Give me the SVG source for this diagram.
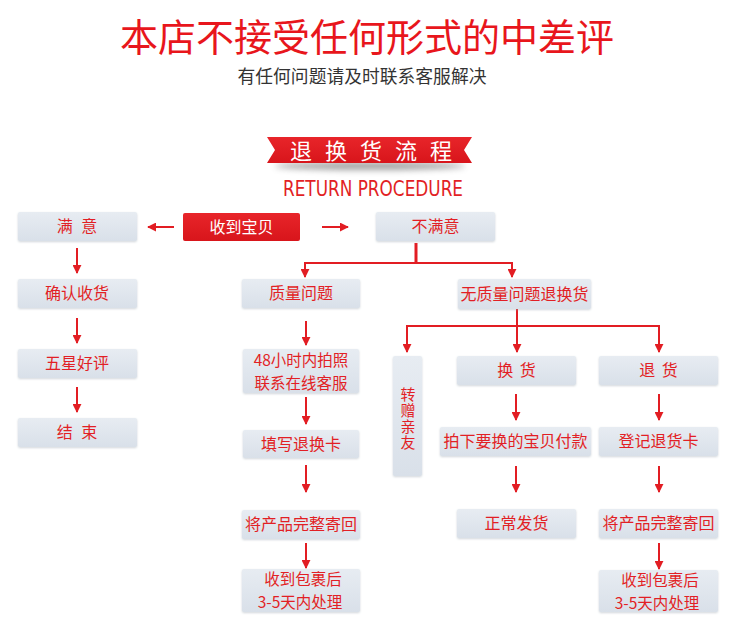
<svg xmlns="http://www.w3.org/2000/svg" width="750" height="629" viewBox="0 0 750 629">
<defs>
<linearGradient id="boxg" x1="0" y1="0" x2="0" y2="1">
<stop offset="0" stop-color="#e7ecf2"/>
<stop offset="1" stop-color="#d9e0e9"/>
</linearGradient>
<linearGradient id="redg" x1="0" y1="0" x2="0" y2="1">
<stop offset="0" stop-color="#e8252a"/>
<stop offset="1" stop-color="#d8151b"/>
</linearGradient>
<filter id="blur" x="-20%" y="-100%" width="140%" height="300%">
<feGaussianBlur stdDeviation="3"/>
</filter>
<filter id="sh" x="-5%" y="-10%" width="110%" height="130%">
<feDropShadow dx="0" dy="1" stdDeviation="0.8" flood-color="#9aa4b0" flood-opacity="0.45"/>
</filter>
<marker id="ah" viewBox="0 0 10 10" refX="9" refY="5" markerWidth="4.5" markerHeight="4.5" orient="auto" markerUnits="strokeWidth">
<path d="M0,0 L10,5 L0,10 z" fill="#e21d23"/>
</marker>
</defs>
<style>
.box{fill:url(#boxg);filter:url(#sh)}
.t{font-family:"Noto Sans CJK SC","Noto Sans",sans-serif;font-size:16px;fill:#e21f25;text-anchor:middle}
.two{font-size:15.5px}
.v{font-size:15px;writing-mode:vertical-rl;letter-spacing:1px}
.c{fill:none;stroke:#e21d23;stroke-width:2}
.ca{fill:none;stroke:#e21d23;stroke-width:2;marker-end:url(#ah)}
</style>
<rect width="750" height="629" fill="#ffffff"/>

<g id="title">
<text x="367" y="51" font-family="Noto Sans CJK SC,sans-serif" font-size="38" fill="#e8161c" text-anchor="middle">本店不接受任何形式的中差评</text>
<text x="362" y="83" font-family="Noto Sans CJK SC,sans-serif" font-size="17.8" fill="#333333" text-anchor="middle">有任何问题请及时联系客服解决</text>
</g>

<g id="ribbon">
<ellipse cx="370" cy="166" rx="95" ry="4" fill="#555" opacity="0.55" filter="url(#blur)"/>
<polygon points="267,137 472,137 464,150 472,163 267,163 275,150" fill="url(#redg)"/>
<text font-family="Noto Sans CJK SC,sans-serif" font-size="22" fill="#ffffff" text-anchor="middle" y="159"><tspan x="301">退</tspan><tspan x="336">换</tspan><tspan x="371">货</tspan><tspan x="406">流</tspan><tspan x="441">程</tspan></text>
<text x="283" y="196" font-family="DejaVu Sans Condensed,DejaVu Sans,sans-serif" font-size="22" fill="#e21f25" textLength="180" lengthAdjust="spacingAndGlyphs">RETURN PROCEDURE</text>
</g>

<g id="connectors">
<line class="ca" x1="174" y1="227" x2="148" y2="227"/>
<line class="ca" x1="322" y1="227" x2="348" y2="227"/>
<line class="ca" x1="77" y1="248" x2="77" y2="273"/>
<line class="ca" x1="77" y1="318" x2="77" y2="343"/>
<line class="ca" x1="77" y1="387" x2="77" y2="412"/>
<line x1="416" y1="243" x2="416" y2="263" stroke="#e21d23" stroke-width="3"/>
<polyline class="c" points="305,276 305,263 512,263 512,276"/>
<line class="ca" x1="305" y1="266" x2="305" y2="277"/>
<line class="ca" x1="512" y1="266" x2="512" y2="277"/>
<line class="ca" x1="306" y1="321" x2="306" y2="345"/>
<line class="ca" x1="306" y1="397" x2="306" y2="424"/>
<line class="ca" x1="306" y1="465" x2="306" y2="492"/>
<line class="ca" x1="306" y1="543" x2="306" y2="568"/>
<line x1="517" y1="309" x2="517" y2="326" stroke="#e21d23" stroke-width="2"/>
<polyline class="c" points="407,340 407,326 659,326 659,340"/>
<line class="ca" x1="407" y1="330" x2="407" y2="352"/>
<line class="ca" x1="517" y1="326" x2="517" y2="352"/>
<line class="ca" x1="659" y1="330" x2="659" y2="352"/>
<line class="ca" x1="516" y1="394" x2="516" y2="420"/>
<line class="ca" x1="659" y1="394" x2="659" y2="420"/>
<line class="ca" x1="516" y1="466" x2="516" y2="492"/>
<line class="ca" x1="659" y1="466" x2="659" y2="492"/>
<line class="ca" x1="659" y1="543" x2="659" y2="569"/>
</g>

<g id="n-shoudao"><rect x="183" y="213" width="117" height="28" rx="2" fill="url(#redg)"/><text class="t" x="241.5" y="233" style="fill:#ffffff">收到宝贝</text></g>
<g id="n-manyi"><rect class="box" x="18" y="212" width="119" height="29" rx="2"/><text class="t" x="77" y="232" style="word-spacing:5px">满 意</text></g>
<g id="n-bumanyi"><rect class="box" x="376" y="212" width="119" height="29" rx="2"/><text class="t" x="435.5" y="232">不满意</text></g>
<g id="n-queren"><rect class="box" x="18" y="279" width="119" height="29" rx="2"/><text class="t" x="77" y="299">确认收货</text></g>
<g id="n-wuxing"><rect class="box" x="18" y="349" width="119" height="29" rx="2"/><text class="t" x="77" y="369">五星好评</text></g>
<g id="n-jieshu"><rect class="box" x="18" y="418" width="119" height="29" rx="2"/><text class="t" x="77" y="438" style="word-spacing:5px">结 束</text></g>
<g id="n-zhiliang"><rect class="box" x="242" y="279" width="118" height="29" rx="2"/><text class="t" x="301" y="299">质量问题</text></g>
<g id="n-wuzhiliang"><rect class="box" x="458" y="279" width="133" height="30" rx="2"/><text class="t" x="524.5" y="300">无质量问题退换货</text></g>
<g id="n-48"><rect class="box" x="243" y="349" width="116" height="44" rx="2"/><text class="t two"><tspan x="301" y="366">48小时内拍照</tspan><tspan x="301" y="389">联系在线客服</tspan></text></g>
<g id="n-tianxie"><rect class="box" x="243" y="430" width="116" height="28" rx="2"/><text class="t" x="301" y="450">填写退换卡</text></g>
<g id="n-jiang1"><rect class="box" x="242" y="510" width="118" height="29" rx="2"/><text class="t" x="301" y="530">将产品完整寄回</text></g>
<g id="n-shou1"><rect class="box" x="242" y="569" width="118" height="43" rx="2"/><text class="t two"><tspan x="303" y="585">收到包裹后</tspan><tspan x="300" y="608">3-5天内处理</tspan></text></g>
<g id="n-zhuanzeng"><rect class="box" x="393" y="356" width="29" height="120" rx="2"/><text class="t v" x="408" y="419">转赠亲友</text></g>
<g id="n-huanhuo"><rect class="box" x="457" y="356" width="119" height="29" rx="2"/><text class="t" x="516.5" y="376" style="word-spacing:3px">换 货</text></g>
<g id="n-tuihuo"><rect class="box" x="599" y="356" width="119" height="29" rx="2"/><text class="t" x="658.5" y="376" style="word-spacing:3px">退 货</text></g>
<g id="n-paixia"><rect class="box" x="440" y="427" width="151" height="29" rx="2"/><text class="t" x="515.5" y="447">拍下要换的宝贝付款</text></g>
<g id="n-dengji"><rect class="box" x="599" y="427" width="119" height="29" rx="2"/><text class="t" x="658.5" y="447">登记退货卡</text></g>
<g id="n-zhengchang"><rect class="box" x="457" y="509" width="119" height="29" rx="2"/><text class="t" x="516.5" y="529">正常发货</text></g>
<g id="n-jiang2"><rect class="box" x="599" y="509" width="119" height="29" rx="2"/><text class="t" x="658.5" y="529">将产品完整寄回</text></g>
<g id="n-shou2"><rect class="box" x="599" y="570" width="119" height="42" rx="2"/><text class="t two"><tspan x="660" y="586">收到包裹后</tspan><tspan x="657" y="609">3-5天内处理</tspan></text></g>
</svg>
